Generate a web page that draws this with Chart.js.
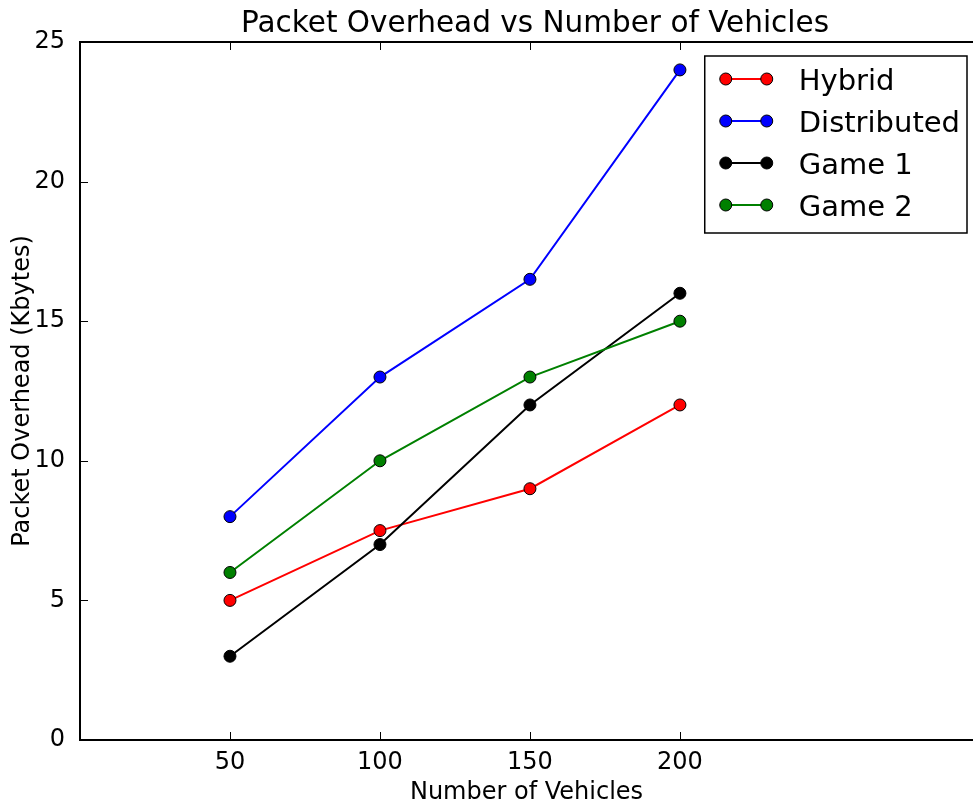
<!DOCTYPE html>
<html>
<head>
<meta charset="utf-8">
<script src="https://cdn.jsdelivr.net/npm/chart.js@4/dist/chart.umd.min.js"></script>
<style>
  html, body { margin: 0; padding: 0; overflow: hidden; background: #fff; }
  #wrap { width: 973px; height: 806px; }
</style>
</head>
<body>
<div id="wrap"><canvas id="chart" width="973" height="806"></canvas></div>
<script>
// data
var vehicles = [50, 100, 150, 200];
var hybrid = [5, 7.5, 9, 12];
var distributed = [8, 13, 16.5, 24];
var game1 = [3, 7, 12, 16];
var game2 = [6, 10, 13, 15];
var seriesNames = ["Hybrid", "Distributed", "Game 1", "Game 2"];
var seriesColors = ["#ff0000", "#0000ff", "#000000", "#008000"];
var yTicks = [0, 5, 10, 15, 20, 25];
// the figure cuts the axes off on the right, so the visible x range stops short of 300
var xRange = [0, 297.7];

var FONT = "DejaVu Sans";

function toPoints(vals) {
  return vals.map(function (v, i) { return { x: vehicles[i], y: v }; });
}

function makeDataset(idx, vals) {
  return {
    label: seriesNames[idx],
    data: toPoints(vals),
    borderColor: seriesColors[idx],
    backgroundColor: seriesColors[idx],
    borderWidth: 2,
    pointRadius: 6,
    pointHoverRadius: 6,
    pointBorderWidth: 1,
    pointBorderColor: "#000",
    pointBackgroundColor: seriesColors[idx],
    tension: 0,
    order: 3 - idx // later series drawn on top, like the original
  };
}

function line(ctx, x1, y1, x2, y2) {
  ctx.beginPath(); ctx.moveTo(x1, y1); ctx.lineTo(x2, y2); ctx.stroke();
}

var framePlugin = {
  id: "frame",
  afterDraw: function (chart) {
    var a = chart.chartArea, ctx = chart.ctx;
    var xs = chart.scales.x, ys = chart.scales.y;
    ctx.save();
    // inward tick marks (right side is outside the figure)
    ctx.strokeStyle = "#000";
    ctx.lineWidth = 1;
    vehicles.forEach(function (v) {
      var px = Math.round(xs.getPixelForValue(v)) + 0.5;
      line(ctx, px, a.bottom, px, a.bottom - 8);
      line(ctx, px, a.top, px, a.top + 8);
    });
    yTicks.forEach(function (v) {
      var py = Math.round(ys.getPixelForValue(v)) + 0.5;
      line(ctx, a.left, py, a.left + 8, py);
    });
    // spines: left, top, bottom
    ctx.lineWidth = 2;
    ctx.beginPath();
    ctx.moveTo(a.right + 2, a.top);
    ctx.lineTo(a.left, a.top);
    ctx.lineTo(a.left, a.bottom);
    ctx.lineTo(a.right + 2, a.bottom);
    ctx.stroke();

    // title
    ctx.fillStyle = "#000";
    ctx.font = "29.5px '" + FONT + "'";
    ctx.textAlign = "center";
    ctx.textBaseline = "alphabetic";
    ctx.fillText("Packet Overhead vs Number of Vehicles", (a.left + a.right) / 2 + 8.5, a.top - 10);

    // legend box, upper right inside the axes
    var boxRight = a.right - 6, boxTop = a.top + 14;
    var rowH = 42;
    ctx.font = "29px '" + FONT + "'";
    var maxW = 0;
    seriesNames.forEach(function (n) { maxW = Math.max(maxW, ctx.measureText(n).width); });
    var boxW = 21 + 41 + 32 + maxW + 7;
    var boxH = 177;
    var boxLeft = boxRight - boxW;
    ctx.fillStyle = "#fff";
    ctx.fillRect(boxLeft, boxTop, boxW, boxH);
    ctx.lineWidth = 1.5;
    ctx.strokeStyle = "#000";
    ctx.strokeRect(boxLeft, boxTop, boxW, boxH);
    ctx.textAlign = "left";
    seriesNames.forEach(function (n, i) {
      var cy = boxTop + 23 + i * rowH;
      var x1 = boxLeft + 21, x2 = x1 + 41;
      ctx.strokeStyle = seriesColors[i];
      ctx.lineWidth = 2;
      line(ctx, x1, cy, x2, cy);
      [x1, x2].forEach(function (mx) {
        ctx.beginPath();
        ctx.arc(mx, cy, 6, 0, Math.PI * 2);
        ctx.fillStyle = seriesColors[i];
        ctx.fill();
        ctx.lineWidth = 1;
        ctx.strokeStyle = "#000";
        ctx.stroke();
      });
      ctx.fillStyle = "#000";
      ctx.fillText(n, x2 + 32, cy + 10.5);
    });
    ctx.restore();
  }
};

var ctx = document.getElementById("chart").getContext("2d");
var myChart = new Chart(ctx, {
  type: "line",
  data: {
    datasets: [
      makeDataset(0, hybrid),
      makeDataset(1, distributed),
      makeDataset(2, game1),
      makeDataset(3, game2)
    ]
  },
  options: {
    responsive: false,
    animation: false,
    events: [],
    layout: { autoPadding: false, padding: { top: 42, left: 0, right: 0, bottom: 0 } },
    plugins: {
      legend: { display: false },
      title: { display: false },
      tooltip: { enabled: false }
    },
    scales: {
      x: {
        type: "linear",
        min: xRange[0],
        max: xRange[1],
        grid: { display: false },
        border: { display: false },
        afterBuildTicks: function (scale) {
          scale.ticks = vehicles.map(function (v) { return { value: v }; });
        },
        afterFit: function (scale) { scale.height = 66; },
        ticks: {
          color: "#000",
          padding: 0,
          font: { family: FONT, size: 24 }
        },
        title: {
          display: true,
          text: "Number of Vehicles",
          color: "#000",
          font: { family: FONT, size: 24 },
          padding: { top: 0, bottom: -1 }
        }
      },
      y: {
        min: 0,
        max: 25,
        grid: { display: false },
        border: { display: false },
        afterBuildTicks: function (scale) {
          scale.ticks = yTicks.map(function (v) { return { value: v }; });
        },
        afterFit: function (scale) { scale.width = 80; },
        ticks: {
          color: "#000",
          padding: 7,
          font: { family: FONT, size: 24 }
        },
        title: {
          display: true,
          text: "Packet Overhead (Kbytes)",
          color: "#000",
          font: { family: FONT, size: 24 },
          padding: { top: 8, bottom: 0 }
        }
      }
    }
  },
  plugins: [framePlugin]
});
</script>
</body>
</html>
